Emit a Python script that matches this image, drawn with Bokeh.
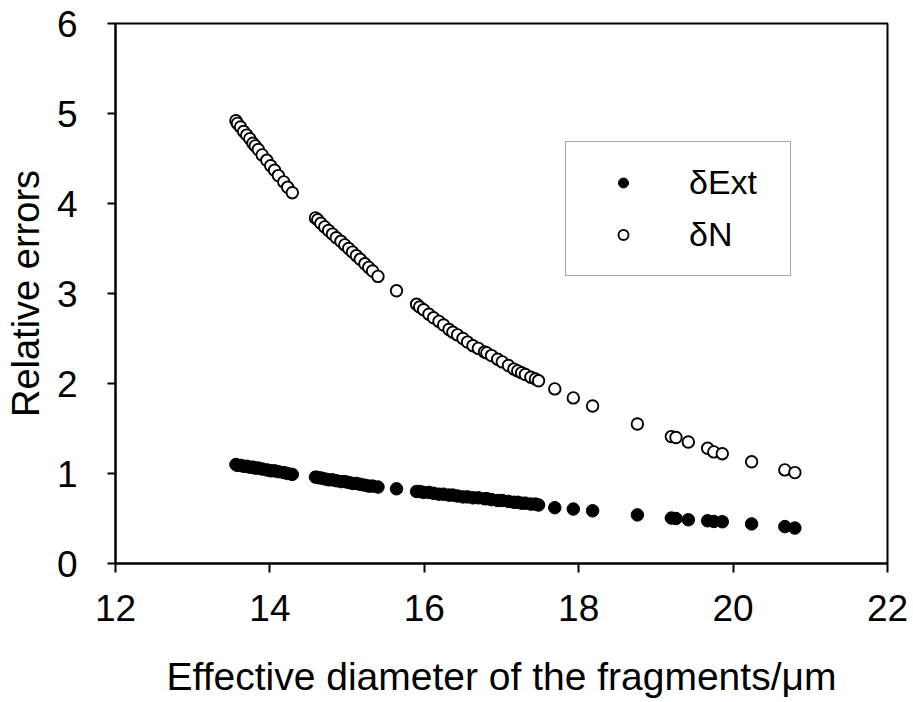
from bokeh.plotting import figure
from bokeh.models import Range1d, FixedTicker, Legend, LegendItem, ColumnDataSource
from bokeh.embed import file_html
from bokeh.resources import INLINE

# ---- data ----
diameter = [
    13.56, 13.58, 13.62, 13.66, 13.70, 13.74, 13.78, 13.81, 13.85, 13.90, 13.96, 14.01,
    14.06, 14.11, 14.18, 14.23, 14.29,
    14.59, 14.62, 14.66, 14.71, 14.76, 14.81, 14.86, 14.92, 14.97, 15.02, 15.07, 15.12,
    15.17, 15.23, 15.28, 15.33, 15.40,
    15.64,
    15.90, 15.94, 15.99, 16.06, 16.12, 16.19, 16.25, 16.32, 16.37, 16.43, 16.50, 16.56,
    16.63, 16.70, 16.78, 16.81, 16.87, 16.95, 17.01, 17.09, 17.16, 17.21, 17.26, 17.31,
    17.38, 17.44, 17.48,
    17.69, 17.93, 18.18, 18.76, 19.20, 19.26, 19.42, 19.67, 19.75, 19.86, 20.24, 20.67, 20.80,
]
delta_n = [
    4.92, 4.89, 4.85, 4.80, 4.76, 4.72, 4.67, 4.64, 4.60, 4.54, 4.48, 4.42,
    4.37, 4.31, 4.24, 4.18, 4.12,
    3.84, 3.82, 3.78, 3.74, 3.70, 3.66, 3.62, 3.58, 3.54, 3.50, 3.46, 3.42,
    3.38, 3.33, 3.29, 3.25, 3.19,
    3.03,
    2.88, 2.85, 2.82, 2.77, 2.73, 2.69, 2.65, 2.60, 2.57, 2.54, 2.50, 2.46,
    2.42, 2.39, 2.35, 2.34, 2.31, 2.27, 2.24, 2.20, 2.16, 2.14, 2.12, 2.10,
    2.07, 2.05, 2.03,
    1.94, 1.84, 1.75, 1.55, 1.41, 1.40, 1.35, 1.28, 1.24, 1.22, 1.13, 1.04, 1.01,
]
delta_ext = [
    1.10, 1.09, 1.09, 1.08, 1.08, 1.07, 1.07, 1.06, 1.06, 1.05, 1.04, 1.03,
    1.03, 1.02, 1.01, 1.00, 0.99,
    0.96, 0.955, 0.95, 0.94, 0.93, 0.93, 0.92, 0.91, 0.91, 0.90, 0.89, 0.89,
    0.88, 0.87, 0.86, 0.86, 0.85,
    0.83,
    0.80, 0.80, 0.79, 0.79, 0.78, 0.77, 0.77, 0.76, 0.76, 0.75, 0.74, 0.74,
    0.73, 0.73, 0.72, 0.72, 0.71, 0.70, 0.70, 0.69, 0.68, 0.68, 0.67, 0.67,
    0.66, 0.66, 0.65,
    0.62, 0.605, 0.586, 0.54, 0.505, 0.50, 0.486, 0.475, 0.467, 0.464, 0.44, 0.41, 0.394,
]
x_ticks = [12, 14, 16, 18, 20, 22]
y_ticks = [0, 1, 2, 3, 4, 5, 6]
series_labels = ["\u03b4Ext", "\u03b4N"]
x_title = "Effective diameter of the fragments/\u03bcm"
y_title = "Relative errors"

FONT = "Liberation Sans"

src = ColumnDataSource(dict(x=diameter, n=delta_n, e=delta_ext))

p = figure(width=913, height=702, output_backend="svg", toolbar_location=None,
           x_range=Range1d(12, 22), y_range=Range1d(0, 6),
           min_border_left=115, min_border_right=26, min_border_top=23, min_border_bottom=139)
p.background_fill_color = "white"
p.border_fill_color = "white"
p.outline_line_color = "black"
p.outline_line_width = 2
p.xgrid.visible = False
p.ygrid.visible = False

r_ext = p.scatter("x", "e", source=src, size=12.5, marker="circle",
                  fill_color="black", line_color="black", line_width=1)
r_n = p.scatter("x", "n", source=src, size=11.5, marker="circle",
                fill_color="white", line_color="black", line_width=1.9)

for ax, ticks in ((p.xaxis[0], x_ticks), (p.yaxis[0], y_ticks)):
    ax.ticker = FixedTicker(ticks=ticks)
    ax.minor_tick_line_color = None
    ax.major_tick_in = 0
    ax.axis_line_color = "black"
    ax.axis_line_width = 2
    ax.major_tick_line_color = "black"
    ax.major_tick_line_width = 2
    ax.major_label_text_font = FONT
    ax.major_label_text_font_size = "37px"
    ax.major_label_text_color = "black"
    ax.axis_label_text_font = FONT
    ax.axis_label_text_font_style = "normal"
    ax.axis_label_text_color = "black"

p.xaxis[0].major_tick_out = 9
p.xaxis[0].major_label_standoff = 22
p.xaxis[0].axis_label = x_title
p.xaxis[0].axis_label_text_font_size = "39px"
p.xaxis[0].axis_label_standoff = 31

p.yaxis[0].major_tick_out = 8
p.yaxis[0].major_label_standoff = 30
p.yaxis[0].axis_label = y_title
p.yaxis[0].axis_label_text_font_size = "38px"
p.yaxis[0].axis_label_standoff = 7

legend = Legend(items=[LegendItem(label=series_labels[0], renderers=[r_ext]),
                       LegendItem(label=series_labels[1], renderers=[r_n])],
                location=(450, 287), orientation="vertical",
                label_text_font=FONT, label_text_font_size="34px", label_text_color="black",
                glyph_width=72, glyph_height=25, label_height=36, label_width=80,
                label_standoff=30, spacing=13, padding=21, margin=0,
                border_line_color="#555555", border_line_width=1.5,
                background_fill_color="white", background_fill_alpha=1)
p.add_layout(legend, "center")

open("out.html", "w").write(file_html(p, INLINE))
